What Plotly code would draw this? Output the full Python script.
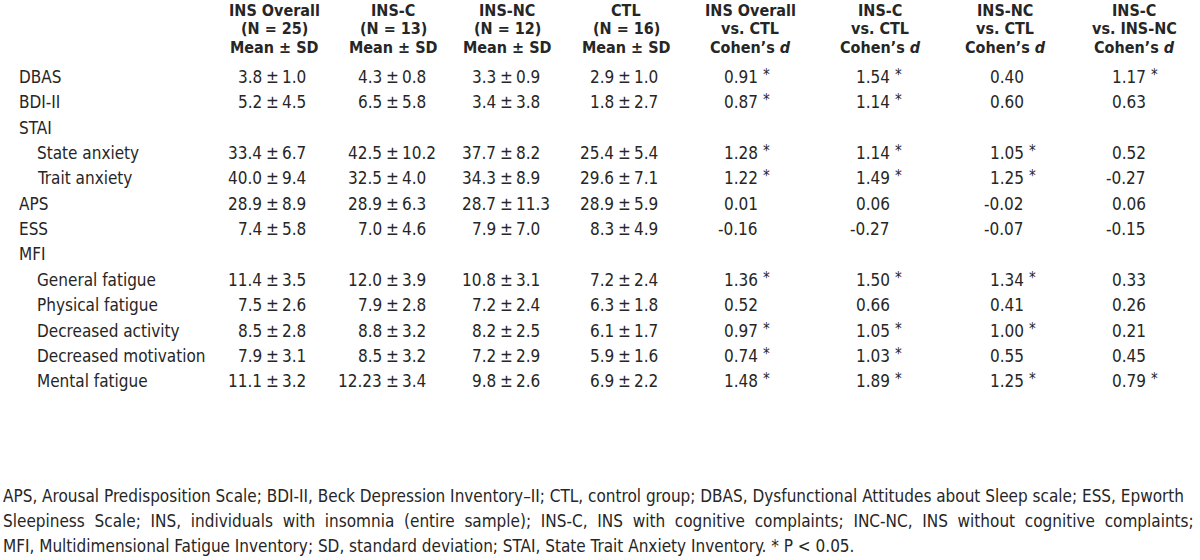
import plotly.graph_objects as go

# ---------------- data ----------------
row_labels = ["DBAS", "BDI-II", "STAI", "State anxiety", "Trait anxiety", "APS", "ESS", "MFI",
              "General fatigue", "Physical fatigue", "Decreased activity",
              "Decreased motivation", "Mental fatigue"]
row_indent = [0, 0, 0, 1, 1, 0, 0, 0, 1, 1, 1, 1, 1]

ins_mean = [3.8, 5.2, None, 33.4, 40.0, 28.9, 7.4, None, 11.4, 7.5, 8.5, 7.9, 11.1]
ins_sd = [1.0, 4.5, None, 6.7, 9.4, 8.9, 5.8, None, 3.5, 2.6, 2.8, 3.1, 3.2]
insc_mean = [4.3, 6.5, None, 42.5, 32.5, 28.9, 7.0, None, 12.0, 7.9, 8.8, 8.5, 12.23]
insc_sd = [0.8, 5.8, None, 10.2, 4.0, 6.3, 4.6, None, 3.9, 2.8, 3.2, 3.2, 3.4]
insnc_mean = [3.3, 3.4, None, 37.7, 34.3, 28.7, 7.9, None, 10.8, 7.2, 8.2, 7.2, 9.8]
insnc_sd = [0.9, 3.8, None, 8.2, 8.9, 11.3, 7.0, None, 3.1, 2.4, 2.5, 2.9, 2.6]
ctl_mean = [2.9, 1.8, None, 25.4, 29.6, 28.9, 8.3, None, 7.2, 6.3, 6.1, 5.9, 6.9]
ctl_sd = [1.0, 2.7, None, 5.4, 7.1, 5.9, 4.9, None, 2.4, 1.8, 1.7, 1.6, 2.2]

d_ins_ctl = [0.91, 0.87, None, 1.28, 1.22, 0.01, -0.16, None, 1.36, 0.52, 0.97, 0.74, 1.48]
sig_ins_ctl = [1, 1, 0, 1, 1, 0, 0, 0, 1, 0, 1, 1, 1]
d_insc_ctl = [1.54, 1.14, None, 1.14, 1.49, 0.06, -0.27, None, 1.50, 0.66, 1.05, 1.03, 1.89]
sig_insc_ctl = [1, 1, 0, 1, 1, 0, 0, 0, 1, 0, 1, 1, 1]
d_insnc_ctl = [0.40, 0.60, None, 1.05, 1.25, -0.02, -0.07, None, 1.34, 0.41, 1.00, 0.55, 1.25]
sig_insnc_ctl = [0, 0, 0, 1, 1, 0, 0, 0, 1, 0, 1, 0, 1]
d_insc_insnc = [1.17, 0.63, None, 0.52, -0.27, 0.06, -0.15, None, 0.33, 0.26, 0.21, 0.45, 0.79]
sig_insc_insnc = [1, 0, 0, 0, 0, 0, 0, 0, 0, 0, 0, 0, 1]

headers = [
    ["INS Overall", "(N = 25)", "Mean ± SD"],
    ["INS-C", "(N = 13)", "Mean ± SD"],
    ["INS-NC", "(N = 12)", "Mean ± SD"],
    ["CTL", "(N = 16)", "Mean ± SD"],
    ["INS Overall", "vs. CTL", "Cohen’s <i>d</i>"],
    ["INS-C", "vs. CTL", "Cohen’s <i>d</i>"],
    ["INS-NC", "vs. CTL", "Cohen’s <i>d</i>"],
    ["INS-C", "vs. INS-NC", "Cohen’s <i>d</i>"],
]

footnote_lines = [
    "APS, Arousal Predisposition Scale; BDI-II, Beck Depression Inventory–II; CTL, control group; DBAS, Dysfunctional Attitudes about Sleep scale; ESS, Epworth",
    "Sleepiness Scale; INS, individuals with insomnia (entire sample); INS-C, INS with cognitive complaints; INC-NC, INS without cognitive complaints;",
    "MFI, Multidimensional Fatigue Inventory; SD, standard deviation; STAI, State Trait Anxiety Inventory. * P < 0.05.",
]
footnote_extra_space = [0, 1, 0]  # crude justification of the wrapped lines

# ---------------- layout / style ----------------
FONT = "DejaVu Sans Condensed, Liberation Sans Narrow, sans-serif"
COLOR = "#262626"
BODY = 17
HEAD = 16
FOOT = 17

header_x = [274, 393, 507, 626, 750, 880, 1005, 1134]
header_y = [10, 28.5, 47]
pm_x = [272, 392, 506, 624]
pm_gap = 8
d_right_x = [760, 892, 1026, 1148]
row_y0, row_dy = 77, 25.35
label_x = [17, 35]
foot_y0, foot_dy = 496, 25

annotations = []


def add(x, y, text, anchor="center", size=BODY, bold=False):
    annotations.append(dict(
        x=x, y=y, xref="x", yref="y", text=text, showarrow=False,
        xanchor=anchor, yanchor="middle",
        font=dict(family=FONT, size=size, color=COLOR, weight=700 if bold else 400),
    ))


for cx, lines in zip(header_x, headers):
    for hy, line in zip(header_y, lines):
        add(cx, hy, line, "center", HEAD, bold=True)

for i, (lab, ind) in enumerate(zip(row_labels, row_indent)):
    add(label_x[ind], row_y0 + i * row_dy, lab, "left")

groups = [(ins_mean, ins_sd), (insc_mean, insc_sd), (insnc_mean, insnc_sd), (ctl_mean, ctl_sd)]
for px, (means, sds) in zip(pm_x, groups):
    for i, (m, s) in enumerate(zip(means, sds)):
        if m is None:
            continue
        y = row_y0 + i * row_dy
        add(px - pm_gap, y, str(m), "right")
        add(px, y, "±", "center")
        add(px + pm_gap, y, str(s), "left")

effects = [(d_ins_ctl, sig_ins_ctl), (d_insc_ctl, sig_insc_ctl),
           (d_insnc_ctl, sig_insnc_ctl), (d_insc_insnc, sig_insc_insnc)]
for rx, (vals, sigs) in zip(d_right_x, effects):
    for i, (v, sg) in enumerate(zip(vals, sigs)):
        if v is None:
            continue
        y = row_y0 + i * row_dy
        add(rx, y, f"{v:.2f}", "right")
        if sg:
            add(rx + 1, y - 2, "*", "left", 15)

for j, (line, extra) in enumerate(zip(footnote_lines, footnote_extra_space)):
    txt = line.replace(" ", " " + "\u00a0" * extra) if extra else line
    add(1, foot_y0 + j * foot_dy, txt, "left", FOOT)

fig = go.Figure()
fig.update_layout(
    width=1200, height=560,
    margin=dict(l=0, r=0, t=0, b=0),
    paper_bgcolor="white", plot_bgcolor="white",
    xaxis=dict(range=[0, 1200], visible=False, fixedrange=True),
    yaxis=dict(range=[560, 0], visible=False, fixedrange=True),
    annotations=annotations,
    showlegend=False,
    hovermode=False,
)
# remove the default 8px page margin so the figure fills the window exactly
fig.write_html("out.html",
               config={"displayModeBar": False, "staticPlot": True},
               post_script="document.body.style.margin='0';document.body.style.overflow='hidden';")
